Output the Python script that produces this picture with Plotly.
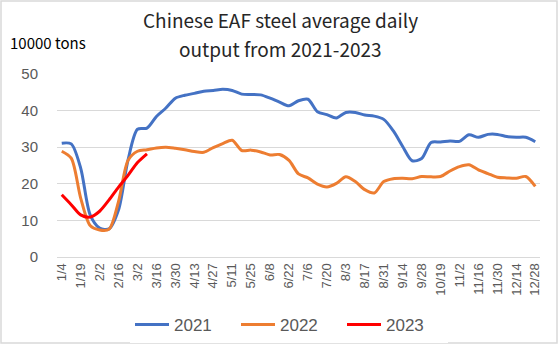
import plotly.graph_objects as go

dates = ["1/4", "1/12", "1/19", "1/26", "2/2", "2/9", "2/16", "2/23", "3/2", "3/9",
         "3/16", "3/23", "3/30", "4/6", "4/13", "4/20", "4/27", "5/4", "5/11", "5/18",
         "5/25", "6/1", "6/8", "6/15", "6/22", "6/29", "7/6", "7/13", "7/20", "7/27",
         "8/3", "8/10", "8/17", "8/24", "8/31", "9/7", "9/14", "9/21", "9/28", "10/12",
         "10/19", "10/26", "11/2", "11/9", "11/16", "11/23", "11/30", "12/7", "12/14", "12/21",
         "12/28"]

y2021 = [31.1, 30.9, 24.3, 11.5, 7.9, 7.7, 12.9, 26.5, 34.9, 35.2,
         38.4, 40.7, 43.4, 44.2, 44.7, 45.3, 45.5, 45.8, 45.5, 44.5,
         44.4, 44.3, 43.4, 42.3, 41.3, 42.7, 43.1, 39.7, 38.9, 38.0,
         39.5, 39.5, 38.8, 38.5, 37.6, 34.5, 30.2, 26.3, 26.9, 31.3,
         31.4, 31.7, 31.6, 33.4, 32.7, 33.5, 33.5, 32.9, 32.7, 32.7,
         31.5]

y2022 = [28.9, 27.0, 16.1, 8.6, 7.4, 7.6, 15.2, 26.4, 28.9, 29.3,
         29.8, 30.0, 29.7, 29.3, 28.8, 28.6, 29.9, 31.0, 31.9, 29.1,
         29.2, 28.7, 27.9, 28.0, 26.4, 22.7, 21.6, 19.9, 19.1, 20.1,
         21.9, 20.6, 18.4, 17.5, 20.6, 21.4, 21.5, 21.4, 22.0, 21.9,
         22.0, 23.5, 24.7, 25.2, 23.8, 22.8, 21.8, 21.6, 21.5, 22.0,
         19.3]

y2023 = [17.0, 14.3, 11.5, 10.9, 12.5, 15.6, 19.1, 22.3, 25.8, 28.2]

tick_labels = dates[::2]

title_lines = ["Chinese EAF steel average daily", "output from 2021-2023"]
unit_label = "10000 tons"

series = [("2021", y2021, "#4472C4"), ("2022", y2022, "#ED7D31"), ("2023", y2023, "#FF0000")]

# plot area in pixels
L, R, T, B = 57, 540, 74, 257
PW, PH = R - L, B - T

def px_x(x):
    return (x - L) / PW

def px_y(y):
    return (B - y) / PH

fig = go.Figure()
for name, vals, col in series:
    fig.add_trace(go.Scatter(
        x=list(range(len(vals))), y=vals, name=name, mode="lines",
        line=dict(color=col, width=3, shape="spline", smoothing=0.8),
    ))

fig.update_layout(
    width=559, height=345,
    margin=dict(l=L, r=559 - R, t=T, b=345 - B),
    paper_bgcolor="white", plot_bgcolor="white",
    font=dict(family="Liberation Sans, Arial, sans-serif", color="#595959"),
    xaxis=dict(
        range=[-0.5, len(dates) - 0.5],
        tickmode="array",
        tickvals=list(range(0, len(dates), 2)),
        ticktext=tick_labels,
        tickangle=-90,
        tickfont=dict(size=13, color="#595959"),
        showgrid=False, zeroline=False,
        showline=True, linecolor="#d9d9d9", linewidth=1,
        ticks="",
    ),
    yaxis=dict(
        range=[0, 50], dtick=10,
        tickfont=dict(size=15, color="#595959"),
        showgrid=True, gridcolor="#d9d9d9", gridwidth=1,
        zeroline=False, showline=False, ticks="",
        ticklabelstandoff=18,
    ),
    legend=dict(
        orientation="h", xref="container", x=0.517, xanchor="center",
        yref="container", y=0.058, yanchor="middle",
        font=dict(size=17, color="#595959"),
        itemwidth=34, entrywidth=57, entrywidthmode="pixels",
    ),
    showlegend=True,
)

for line, yc in zip(title_lines, [20, 48]):
    fig.add_annotation(
        text=line, xref="paper", yref="paper",
        x=px_x(280), y=px_y(yc), xanchor="center", yanchor="middle",
        showarrow=False, font=dict(family="Noto Sans CJK SC", size=19, color="#262626"),
    )

fig.add_annotation(
    text=unit_label, xref="paper", yref="paper",
    x=px_x(8), y=px_y(42), xanchor="left", yanchor="middle",
    showarrow=False, font=dict(family="Noto Sans CJK SC", size=15, color="#000000"),
)

# chart area border
fig.add_shape(type="rect", xref="paper", yref="paper",
              x0=px_x(1), x1=px_x(557), y0=px_y(343), y1=px_y(1),
              line=dict(color="#d9d9d9", width=1.5), fillcolor="rgba(0,0,0,0)", layer="above")

fig.write_html("out.html")
